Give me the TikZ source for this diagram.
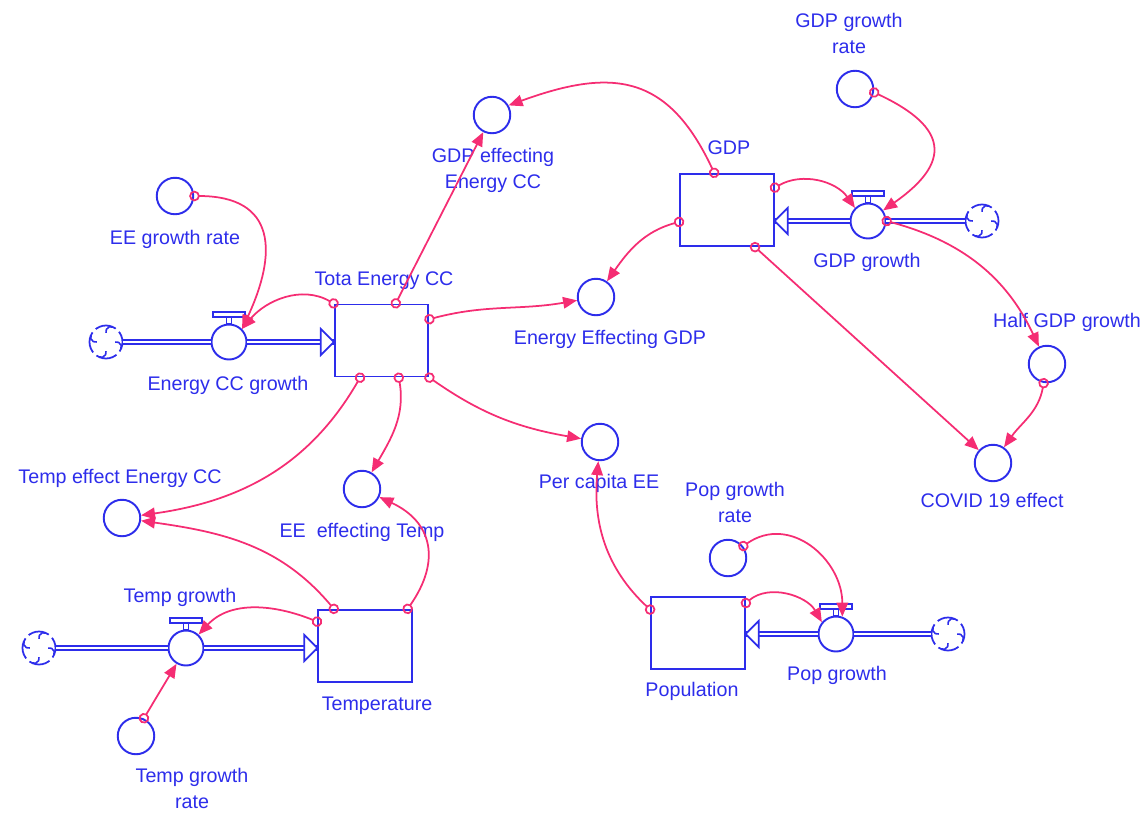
\documentclass[tikz,border=0pt]{standalone}
\usepackage{fontspec}
\setmainfont{Liberation Sans}
\usetikzlibrary{arrows.meta,calc}
\definecolor{vblue}{RGB}{45,45,235}
\definecolor{vpink}{RGB}{245,45,115}

\tikzstyle{stock} = [rectangle, draw=vblue, line width=1.1pt, minimum width=18.7mm, minimum height=14.4mm, inner sep=0]
\tikzstyle{aux} = [circle, draw=vblue, line width=1.1pt, minimum size=7.3mm, inner sep=0]
\tikzstyle{valve} = [circle, draw=vblue, line width=1.1pt, minimum size=7mm, inner sep=0]
\tikzstyle{srcsink} = [circle, draw=vblue, line width=1pt, minimum size=6.6mm, inner sep=0, dash pattern=on 4.3mm off 0.9mm, dash phase=2.1mm,
  path picture={\foreach \a in {45,135,225,315} \draw[solid, vblue, line width=0.9pt] ([shift={(\a+20:3.3mm)}]path picture bounding box.center) arc[start angle=\a+20, delta angle=130, radius=1mm];}]
\tikzstyle{txt} = [text=vblue, inner sep=0, font=\fontsize{11.2}{15}\selectfont]
\tikzstyle{pipe} = [draw=vblue, line width=1pt, double=white, double distance=1.6pt]
\tikzstyle{pipehead} = [draw=vblue, line width=1pt, fill=white, line join=miter]
\tikzstyle{valvebar} = [draw=vblue, line width=1.1pt, fill=white]
\tikzstyle{link} = [color=vpink, line width=1pt, shorten <=-1mm, {Circle[open,length=2.1mm]}-{Triangle[length=2.8mm,width=2.3mm]}]

\begin{document}
\begin{tikzpicture}[x=0.2mm, y=0.2mm]
\useasboundingbox (0,0) rectangle (1146,-812);

\node[stock] (TEC) at (381.5,-340.5) {};
\node[stock] (GDP) at (727,-210) {};
\node[stock] (Temp) at (365,-646) {};
\node[stock] (Pop) at (698,-633) {};

\node[valve] (ECCg) at (229,-342) {};
\node[valve] (GDPg) at (868,-221) {};
\node[valve] (Tg) at (186,-648) {};
\node[valve] (Pg) at (836,-634) {};

\node[srcsink] (C1) at (106,-342) {};
\node[srcsink] (C2) at (982,-221) {};
\node[srcsink] (C3) at (39,-648) {};
\node[srcsink] (C4) at (948,-634) {};

\node[aux] (EEgr) at (175,-196) {};
\node[aux] (GDPeff) at (492,-115) {};
\node[aux] (EEGDP) at (596,-297) {};
\node[aux] (GDPgr) at (855,-89) {};
\node[aux] (HalfGDP) at (1047,-364) {};
\node[aux] (COVID) at (993,-463) {};
\node[aux] (PerCap) at (600,-442) {};
\node[aux] (Popgr) at (728,-558) {};
\node[aux] (TempEff) at (122,-518) {};
\node[aux] (EETemp) at (362,-489) {};
\node[aux] (Tempgr) at (136,-736) {};

\node[txt, anchor=base] (EEgrL) at (175,-244) {EE growth rate};
\node[txt, anchor=base] (ECCgL) at (228,-390) {Energy CC growth};
\node[txt, anchor=base] (TECL) at (384,-285) {Tota Energy CC};
\node[txt, anchor=north, align=center] (GDPeffL) at (493,-148) {GDP effecting\\Energy CC};
\node[txt, anchor=base] (GDPL) at (729,-154) {GDP};
\node[txt, anchor=north, align=center] (GDPgrL) at (849,-13) {GDP growth\\rate};
\node[txt, anchor=base] (GDPgL) at (867,-267) {GDP growth};
\node[txt, anchor=base] (EEGDPL) at (610,-344) {Energy Effecting GDP};
\node[txt, anchor=base] (HalfL) at (1067,-327) {Half GDP growth};
\node[txt, anchor=base] (COVIDL) at (992,-507) {COVID 19 effect};
\node[txt, anchor=base] (PerCapL) at (599,-488) {Per capita EE};
\node[txt, anchor=north, align=center] (PopgrL) at (735,-482) {Pop growth\\rate};
\node[txt, anchor=base] (PgL) at (837,-680) {Pop growth};
\node[txt, anchor=base] (PopL) at (692,-696) {Population};
\node[txt, anchor=base] (TempEffL) at (120,-483) {Temp effect Energy CC};
\node[txt, anchor=base] (EETempL) at (362,-537) {EE~ effecting Temp};
\node[txt, anchor=base] (TgL) at (180,-602) {Temp growth};
\node[txt, anchor=base] (TempL) at (377,-710) {Temperature};
\node[txt, anchor=north, align=center] (TempgrL) at (192,-768) {Temp growth\\rate};

\draw[pipe] (C1) -- (ECCg);
\draw[pipe] (ECCg) -- (ECCg -| TEC.west);
\draw[pipe] (C2) -- (GDPg);
\draw[pipe] (GDPg) -- (GDPg -| GDP.east);
\draw[pipe] (C3) -- (Tg);
\draw[pipe] (Tg) -- (Tg -| Temp.west);
\draw[pipe] (C4) -- (Pg);
\draw[pipe] (Pg) -- (Pg -| Pop.east);

\foreach \v/\s/\a/\d in {ECCg/TEC/west/-13,GDPg/GDP/east/13,Tg/Temp/west/-13,Pg/Pop/east/13}
  \draw[pipehead] ($(\v -| \s.\a)+(\d,13)$) -- (\v -| \s.\a) -- ($(\v -| \s.\a)+(\d,-13)$) -- cycle;

\foreach \v in {ECCg,GDPg,Tg,Pg} {
  \draw[valvebar] ([shift={(-2.5,0)}]\v.north) rectangle ([shift={(2.5,7)}]\v.north);
  \draw[valvebar] ([shift={(-16,7)}]\v.north) rectangle ([shift={(16,12)}]\v.north);
}

\path[link]
  (EEgr) edge[out=0, in=65, looseness=1.5] (ECCg.north east)
  (TEC.north west) edge[out=150, in=50] (ECCg.north east)
  (TEC.69) edge (GDPeff)
  (GDP.109) edge[out=115, in=20, looseness=1.3] (GDPeff.30)
  (TEC.24) edge[out=15, in=190] (EEGDP)
  (GDP.194) edge[out=195, in=55] (EEGDP)
  (GDP.25) edge[out=30, in=125] (GDPg.135)
  (GDPgr.350) edge[out=-25, in=35, looseness=1.8] (GDPg.35)
  (GDPg.east) edge[out=-15, in=115] (HalfGDP)
  (HalfGDP) edge[out=-100, in=55] (COVID)
  (GDP.307) edge (COVID)
  (TEC.south east) edge[out=-35, in=170] (PerCap)
  (Pop.154) edge[out=137, in=-95] (PerCap)
  (Pop.32) edge[out=40, in=120] (Pg.140)
  (Popgr.38) edge[out=35, in=90, looseness=1.2] (Pg.70)
  (TEC.240) edge[out=240, in=8] (TempEff)
  (TEC.295) edge[out=-80, in=60] (EETemp)
  (Temp.130) edge[out=130, in=-8] (TempEff)
  (Temp.41) edge[out=55, in=-25, looseness=1.3] (EETemp)
  (Temp.153) edge[out=158, in=47] (Tg)
  (Tempgr.66) edge (Tg)
  ;

\end{tikzpicture}
\end{document}
